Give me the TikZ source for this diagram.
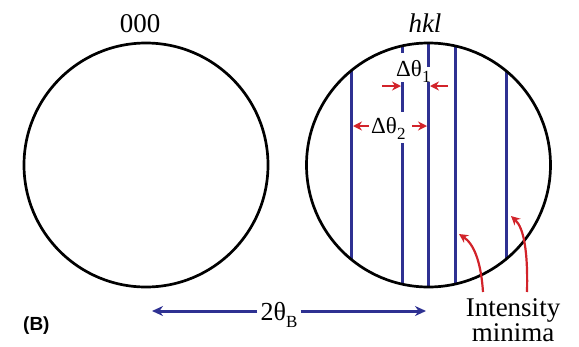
\documentclass[tikz,border=0pt]{standalone}
\usepackage{fontspec}
\setmainfont{Liberation Serif}
\newfontfamily\labfont{Liberation Sans}
\usetikzlibrary{arrows.meta}
\definecolor{navyln}{RGB}{46,49,146}
\definecolor{redarr}{RGB}{210,35,42}
\newcommand\mysub[1]{\raisebox{-0.28em}{\fontsize{17}{17}\selectfont #1}}
\tikzset{
  ring/.style={draw=black, line width=2.7pt},
  minline/.style={draw=navyln, line width=3pt},
  redtip/.style={draw=redarr, line width=2.2pt, -{Stealth[length=9pt,width=9pt]}},
  bluetip/.style={draw=navyln, line width=3pt, -{Stealth[length=11pt,width=10pt]}},
  lbl/.style={inner sep=0pt, font=\fontsize{27}{30}\selectfont},
  dlbl/.style={inner sep=0pt, font=\fontsize{23}{26}\selectfont},
}
\begin{document}
\begin{tikzpicture}[x=1pt,y=-1pt]
\useasboundingbox (0,0) rectangle (579,346);
% circles
\coordinate (cl) at (146,165);
\coordinate (cr) at (428.5,165);
\draw[ring] (cl) circle [radius=122];
% vertical intensity-minima lines, clipped to the right circle
\begin{scope}
  \clip (cr) circle [radius=122];
  \draw[minline] (351,0) -- (351,346);
  \draw[minline] (402,0) -- (402,53);
  \draw[minline] (402,82) -- (402,112);
  \draw[minline] (402,143) -- (402,346);
  \draw[minline] (428.5,0) -- (428.5,67);
  \draw[minline] (428.5,82) -- (428.5,346);
  \draw[minline] (455,0) -- (455,346);
  \draw[minline] (506,0) -- (506,346);
\end{scope}
\draw[ring] (cr) circle [radius=122];
% labels
\node[lbl, anchor=base] (l000) at (140,32) {000};
\node[lbl, anchor=base] (lhkl) at (425,32) {\itshape hkl};
\node[dlbl, anchor=base west] (d1) at (396,76) {Δθ\mysub{1}};
\node[dlbl, anchor=base west] (d2) at (371,133) {Δθ\mysub{2}};
% delta arrows
\coordinate (a1s) at (382,86);  \coordinate (a1e) at (401,86);
\coordinate (a2s) at (448,86);  \coordinate (a2e) at (430,86);
\coordinate (b1s) at (369,126); \coordinate (b1e) at (353,126);
\coordinate (b2s) at (412,126); \coordinate (b2e) at (427,126);
\draw[redtip] (a1s) -- (a1e);
\draw[redtip] (a2s) -- (a2e);
\draw[redtip] (b1s) -- (b1e);
\draw[redtip] (b2s) -- (b2e);
% 2 theta_B arrow
\node[inner sep=0pt, font=\fontsize{26}{28}\selectfont, anchor=base] (tb) at (279,320) {2θ\mysub{B}};
\coordinate (tbl) at (152,311);
\coordinate (tbr) at (426,311);
\draw[bluetip] (tb.west |- tbl) ++(-3,0) -- (tbl);
\draw[bluetip] (tb.east |- tbr) ++(3,0) -- (tbr);
% intensity minima
\node[lbl, anchor=base] (im1) at (513,316) {Intensity};
\node[lbl, anchor=base] (im2) at (513,341) {minima};
\coordinate (m1s) at (483,292); \coordinate (m1e) at (459,234);
\coordinate (m2s) at (527,292); \coordinate (m2e) at (511,216);
\draw[redtip] (m1s) .. controls (481,262) and (474,244) .. (m1e);
\draw[redtip] (m2s) .. controls (528,252) and (524,228) .. (m2e);
% panel label
\node[inner sep=0pt, anchor=base west, font=\labfont\bfseries\fontsize{19}{21}\selectfont] (pB) at (23,330) {(B)};
\end{tikzpicture}
\end{document}
